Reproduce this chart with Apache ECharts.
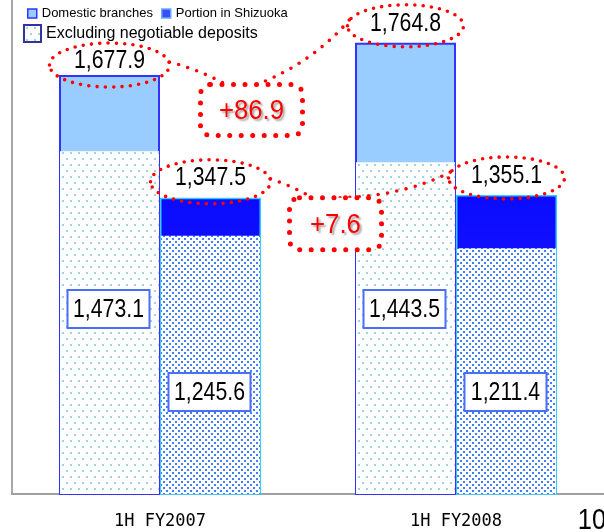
<!DOCTYPE html>
<html>
<head>
<meta charset="utf-8">
<script src="https://cdn.jsdelivr.net/npm/echarts@6/dist/echarts.min.js"></script>
<style>
  html, body { margin: 0; padding: 0; background: #ffffff; }
  #chart { width: 604px; height: 532px; }
</style>
</head>
<body>
<div id="chart"></div>
<script>
// Deposits by period (billions of yen)
const categories = ['1H FY2007', '1H FY2008'];
const domesticTotal = [1677.9, 1764.8];      // Domestic branches
const domesticExNcd = [1473.1, 1443.5];      // Domestic, excluding negotiable deposits
const shizuokaTotal = [1347.5, 1355.1];      // Portion in Shizuoka
const shizuokaExNcd = [1245.6, 1211.4];      // Shizuoka, excluding negotiable deposits
const legendNames = ['Domestic branches', 'Portion in Shizuoka', 'Excluding negotiable deposits'];
const pageNumber = '10';

const sansFont = "'Liberation Sans', Arial, sans-serif";
const fmt = v => v.toLocaleString('en-US', { minimumFractionDigits: 1, maximumFractionDigits: 1 });
const fmtDelta = v => '+' + fmt(v);

// Small dotted fills for the "excluding negotiable deposits" portions
function dotTile(w, h, dots, color, size) {
  const c = document.createElement('canvas');
  c.width = w; c.height = h;
  const g = c.getContext('2d');
  g.fillStyle = '#ffffff';
  g.fillRect(0, 0, w, h);
  g.fillStyle = color;
  dots.forEach(([x, y]) => g.fillRect(x, y, size, size));
  return { image: c, repeat: 'repeat' };
}
const lightDots = dotTile(8, 12, [[2, 2], [6, 8]], '#9fd2e2', 2);
const blueDots = dotTile(6, 6, [[1, 1], [4, 4]], '#3f80f6', 2);

const chart = echarts.init(document.getElementById('chart'), null, { renderer: 'canvas' });

const option = {
  animation: false,
  backgroundColor: '#ffffff',
  grid: { left: 12, right: 0, top: 0, bottom: 38, containLabel: false },
  legend: [
    {
      left: 27, top: 7, padding: 0, itemGap: 8,
      itemWidth: 9, itemHeight: 9, icon: 'rect',
      textStyle: { fontFamily: sansFont, fontSize: 13, color: '#000000' },
      data: [
        { name: legendNames[0], itemStyle: { color: '#99ccff', borderColor: '#3333ff', borderWidth: 1.5 } },
        { name: legendNames[1], itemStyle: { color: '#3b4cf8', borderColor: '#66aaff', borderWidth: 1.5 } }
      ]
    },
    {
      left: 23, top: 24, padding: 0,
      itemWidth: 17, itemHeight: 17, icon: 'rect',
      textStyle: { fontFamily: sansFont, fontSize: 16, color: '#000000' },
      data: [
        { name: legendNames[2], itemStyle: { color: lightDots, borderColor: '#333399', borderWidth: 2 } }
      ]
    }
  ],
  xAxis: [
    {
      type: 'category',
      data: categories,
      axisLine: { lineStyle: { color: '#a0a0a0', width: 2 } },
      axisTick: { inside: true, length: 8, lineStyle: { color: '#a0a0a0', width: 1.5 } },
      axisLabel: { fontFamily: "'DejaVu Sans Mono', 'Liberation Mono', monospace", fontSize: 17, color: '#000000', margin: 19 }
    },
    { type: 'category', data: categories, show: false }
  ],
  yAxis: {
    type: 'value',
    min: 550, max: 1880,
    axisLine: { show: true, lineStyle: { color: '#a8a8a8', width: 2 } },
    axisTick: { show: false },
    axisLabel: { show: false },
    splitLine: { show: false }
  },
  series: [
    {
      name: legendNames[0], type: 'bar', xAxisIndex: 0,
      data: domesticTotal, barWidth: 101, barGap: '0%',
      itemStyle: { color: '#99ccff', borderColor: '#3333ff', borderWidth: 2 }
    },
    {
      name: legendNames[1], type: 'bar', xAxisIndex: 0,
      data: shizuokaTotal, barWidth: 101, barGap: '0%',
      itemStyle: {
        color: new echarts.graphic.LinearGradient(0, 0, 0, 1, [
          { offset: 0, color: '#0a0aff' },
          { offset: 1, color: '#2e2ef2' }
        ]),
        borderColor: '#33ccff', borderWidth: 1.5
      }
    },
    {
      name: legendNames[2], type: 'bar', xAxisIndex: 1,
      data: domesticExNcd, barWidth: 99, barGap: '2.0202%',
      itemStyle: { color: lightDots }
    },
    {
      name: 'Shizuoka excluding negotiable deposits', type: 'bar', xAxisIndex: 1,
      data: shizuokaExNcd, barWidth: 99, barGap: '2.0202%',
      itemStyle: { color: blueDots }
    }
  ]
};

chart.setOption(option);

// ---- labels and call-outs, placed from the laid-out bars ----
const axisBase = chart.convertToPixel({ yAxisIndex: 0 }, option.yAxis.min);

function barGeom(seriesIndex, i) {
  const lay = chart.getModel().getSeriesByIndex(seriesIndex).getData().getItemLayout(i);
  return {
    cx: lay.x + lay.width / 2,
    top: Math.min(lay.y, lay.y + lay.height),
    bottom: Math.min(axisBase, Math.max(lay.y, lay.y + lay.height))
  };
}

// condensed-looking text: a regular face squeezed horizontally
function squeezedText(x, y, text, size, sx, fill, extraStyle) {
  return {
    type: 'text', z: 60, silent: true, x: x, y: y, scaleX: sx, scaleY: 1,
    style: Object.assign({
      x: 0, y: 0, text: text, align: 'center', verticalAlign: 'middle',
      fontFamily: sansFont, fontSize: size, fill: fill
    }, extraStyle || {})
  };
}

const red = '#ff0000';
const ovalStyle = { fill: null, stroke: red, lineWidth: 3.6, lineDash: [0, 8.3], lineCap: 'round' };
const lineStyle = { fill: null, stroke: red, lineWidth: 3.6, lineDash: [0, 9.5], lineCap: 'round' };
const boxStyle = { fill: '#ffffff', stroke: red, lineWidth: 5, lineDash: [0, 11.5], lineCap: 'round' };

const numSize = 25, numSqueeze = 0.85;

// lift: how far the value text (and its oval) sits above each bar top
function valueLabels(totalIdx, partIdx, totals, parts, lift, boxRise) {
  const out = [];
  totals.forEach((v, i) => {
    const g = barGeom(totalIdx, i);
    out.push(squeezedText(g.cx, g.top - lift[i], fmt(v), numSize, numSqueeze, '#000000'));
  });
  parts.forEach((v, i) => {
    const g = barGeom(partIdx, i);
    const cy = g.bottom - boxRise;
    out.push({
      type: 'rect', z: 58, silent: true,
      shape: { x: g.cx - 42, y: cy - 19, width: 82, height: 38 },
      style: { fill: '#ffffff', stroke: '#4a6ef5', lineWidth: 2 }
    });
    out.push(squeezedText(g.cx - 1, cy + 1, fmt(v), numSize, numSqueeze, '#000000'));
  });
  return out;
}

function callouts(seriesIndex, totals, lift, box) {
  const a = barGeom(seriesIndex, 0);
  const b = barGeom(seriesIndex, 1);
  const ovalA = { cx: a.cx, cy: a.top - lift[0] + 4, rx: 60, ry: 22 };
  const ovalB = { cx: b.cx, cy: b.top - lift[1] + 2, rx: 58, ry: 21 };
  const bx = (a.cx + b.cx) / 2 + box.dx;
  const by = a.top + box.dy;
  const x0 = bx - box.w / 2, y0 = by - box.h / 2;
  const delta = totals[1] - totals[0];
  return [
    { type: 'ellipse', z: 50, silent: true, shape: ovalA, style: ovalStyle },
    { type: 'ellipse', z: 50, silent: true, shape: ovalB, style: ovalStyle },
    {
      type: 'bezierCurve', z: 50, silent: true,
      shape: {
        x1: ovalA.cx + ovalA.rx, y1: ovalA.cy - 3,
        x2: x0 + box.w * 0.25, y2: y0,
        cpx1: (ovalA.cx + ovalA.rx + x0 + box.w * 0.25) / 2, cpy1: ovalA.cy + 4
      },
      style: lineStyle
    },
    {
      type: 'bezierCurve', z: 50, silent: true,
      shape: {
        x1: x0 + box.w * 0.55, y1: y0,
        x2: ovalB.cx - ovalB.rx + 2, y2: ovalB.cy - 6,
        cpx1: (x0 + box.w * 0.55 + ovalB.cx - ovalB.rx) / 2 + 10, cpy1: (y0 + ovalB.cy) / 2 + 8
      },
      style: lineStyle
    },
    {
      type: 'rect', z: 51, silent: true,
      shape: { x: x0, y: y0, width: box.w, height: box.h, r: 10 },
      style: boxStyle
    },
    squeezedText(bx, by + 1, fmtDelta(delta), 28, 0.92, red, {
      textShadowColor: 'rgba(0,0,0,0.35)', textShadowOffsetX: 2, textShadowOffsetY: 2, textShadowBlur: 2
    })
  ];
}

const domLift = [14, 19], shzLift = [20, 19];

const extra = []
  .concat(valueLabels(0, 2, domesticTotal, domesticExNcd, domLift, 185))
  .concat(valueLabels(1, 3, shizuokaTotal, shizuokaExNcd, shzLift, 102))
  .concat(callouts(0, domesticTotal, domLift, { dx: -6, dy: 35, w: 102, h: 51 }))
  .concat(callouts(1, shizuokaTotal, shzLift, { dx: -23, dy: 26, w: 92, h: 52 }));

// page number in the lower right corner
extra.push(squeezedText(592, 521, pageNumber, 30, 0.85, '#000000'));

chart.setOption({ graphic: extra });
</script>
</body>
</html>
